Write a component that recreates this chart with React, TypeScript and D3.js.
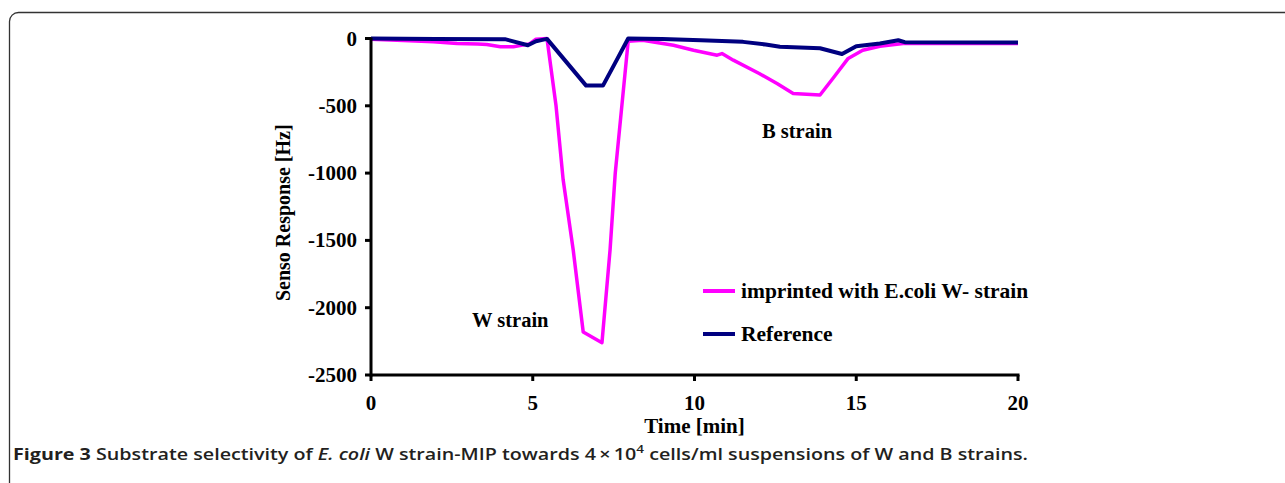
import React from 'react';
import * as d3 from 'd3';

// imprinted with E.coli W- strain (magenta)
const mipTime = [0, 1, 1.93, 2.66, 3.3, 3.58, 4.0, 4.4, 4.9, 5.1, 5.44, 5.72, 5.94, 6.25, 6.56, 7.14, 7.39, 7.55, 7.75, 7.95, 8.4, 9.35, 9.97, 10.7, 10.85, 11.2, 12.0, 12.55, 13.05, 13.88, 14.3, 14.75, 15.2, 15.73, 16.45, 20];
const mipValue = [-5, -15, -25, -37, -40, -45, -62, -62, -40, -5, 0, -500, -1050, -1570, -2180, -2260, -1570, -1000, -510, -20, -13, -50, -87, -124, -112, -161, -260, -334, -408, -420, -290, -148, -87, -57, -37, -37];

// Reference (navy)
const refTime = [0, 2, 4.14, 4.85, 5.1, 5.3, 5.44, 6.65, 7.17, 7.54, 7.95, 9.0, 10.2, 11.5, 12.2, 12.64, 13.88, 14.56, 15.0, 15.73, 16.3, 16.5, 20];
const refValue = [0, -3, -5, -50, -20, -10, -3, -350, -350, -185, 0, -3, -13, -25, -45, -62, -72, -115, -57, -37, -13, -27, -30];

const xTicks = [0, 5, 10, 15, 20];
const yTicks = [0, -500, -1000, -1500, -2000, -2500];
const legendLabels = ['imprinted with E.coli W- strain', 'Reference'];
const seriesColors = ['#ff00ff', '#000080'];

const W = 1285;
const H = 483;
const serif = '"Liberation Serif", "Times New Roman", serif';

export default function App() {
  const x = d3.scaleLinear().domain([0, 20]).range([371, 1018]);
  const y = d3.scaleLinear().domain([-2500, 0]).range([375, 38.5]);

  const line = d3.line<[number, number]>()
    .x(d => x(d[0]))
    .y(d => y(d[1]));

  const mip = mipTime.map((t, i) => [t, mipValue[i]] as [number, number]);
  const ref = refTime.map((t, i) => [t, refValue[i]] as [number, number]);

  return (
    <div style={{ position: 'fixed', left: 0, top: 0 }}>
      <svg width={W} height={H} style={{ display: 'block', background: '#fff' }}>
        {/* frame */}
        <rect x={9.5} y={12.5} width={1320} height={520} rx={9} fill="none" stroke="#333" strokeWidth={1.3} />

        {/* series */}
        <path d={line(mip) || ''} fill="none" stroke={seriesColors[0]} strokeWidth={3.5} strokeLinejoin="round" />
        <path d={line(ref) || ''} fill="none" stroke={seriesColors[1]} strokeWidth={4} strokeLinejoin="round" />

        {/* axes */}
        <line x1={x(0)} x2={x(0)} y1={y(0) - 1} y2={y(-2500) + 1.5} stroke="#000" strokeWidth={3} />
        <line x1={x(0)} x2={x(20) + 1.5} y1={y(-2500)} y2={y(-2500)} stroke="#000" strokeWidth={3} />
        {yTicks.map(v => (
          <g key={v}>
            <line x1={x(0) - 6} x2={x(0)} y1={y(v)} y2={y(v)} stroke="#000" strokeWidth={3} />
            <text x={x(0) - 14} y={y(v) + 7} textAnchor="end" fontFamily={serif} fontWeight="bold" fontSize={21}>{v}</text>
          </g>
        ))}
        {xTicks.map(v => (
          <g key={v}>
            <line x1={x(v)} x2={x(v)} y1={y(-2500)} y2={y(-2500) + 6} stroke="#000" strokeWidth={3} />
            <text x={x(v)} y={410} textAnchor="middle" fontFamily={serif} fontWeight="bold" fontSize={21}>{v}</text>
          </g>
        ))}
        <text x={(x(0) + x(20)) / 2} y={433} textAnchor="middle" fontFamily={serif} fontWeight="bold" fontSize={21}>Time [min]</text>
        <text transform={`translate(290,${(y(0) + y(-2500)) / 2 + 6}) rotate(-90)`} textAnchor="middle" fontFamily={serif} fontWeight="bold" fontSize={20}>Senso Response [Hz]</text>

        {/* annotations */}
        <text x={472} y={327} fontFamily={serif} fontWeight="bold" fontSize={20.5}>W strain</text>
        <text x={762} y={138} fontFamily={serif} fontWeight="bold" fontSize={20.5}>B strain</text>

        {/* legend */}
        {legendLabels.map((label, i) => (
          <g key={label} transform={`translate(703,${291 + i * 43})`}>
            <line x1={0} x2={32} y1={0} y2={0} stroke={seriesColors[i]} strokeWidth={4} />
            <text x={38} y={7} fontFamily={serif} fontWeight="bold" fontSize={21.5}>{label}</text>
          </g>
        ))}

        {/* caption */}
        <text x={13} y={460} fontFamily='"Open Sans", "Noto Sans", sans-serif' fontSize={16} fontWeight={600} fill="#231f20" textLength={1015} lengthAdjust="spacingAndGlyphs">
          <tspan fontWeight={700}>Figure 3</tspan>
          <tspan> Substrate selectivity of </tspan>
          <tspan fontStyle="italic">E. coli</tspan>
          <tspan> W strain-MIP towards 4{'\u2009\u00d7\u2009'}10</tspan>
          <tspan fontSize={11} dy={-7}>4</tspan>
          <tspan dy={7}> cells/ml suspensions of W and B strains.</tspan>
        </text>
      </svg>
    </div>
  );
}
